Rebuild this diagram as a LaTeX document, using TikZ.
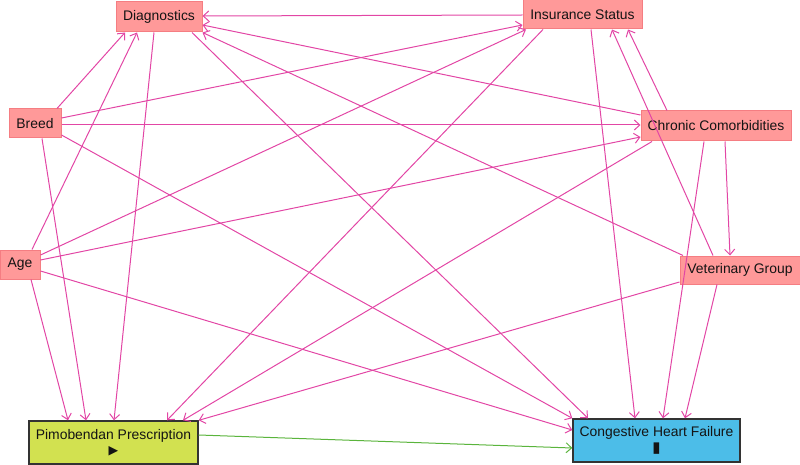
\documentclass[tikz,border=0pt]{standalone}
\usepackage{fontspec}
\setmainfont{Liberation Sans}
\newfontfamily\symfont{DejaVu Sans}
\usetikzlibrary{arrows.meta,calc}
\definecolor{adjfill}{RGB}{255,153,153}
\definecolor{adjdraw}{RGB}{245,125,130}
\definecolor{expfill}{RGB}{210,225,80}
\definecolor{outfill}{RGB}{76,189,232}
\definecolor{biasedge}{RGB}{226,70,165}
\definecolor{causaledge}{RGB}{90,180,60}
\definecolor{txt}{RGB}{20,20,20}
\begin{document}
\begin{tikzpicture}[x=1pt,y=-1pt,
  every node/.style={font=\fontsize{13.9}{17}\selectfont, text=txt, inner sep=0pt, align=center},
  adjbox/.style={draw=adjdraw, fill=adjfill, line width=1pt},
  expbox/.style={draw=black!80, fill=expfill, line width=1.4pt},
  outbox/.style={draw=black!80, fill=outfill, line width=1.4pt},
  bias/.style={draw=biasedge, line width=1pt, -{Straight Barb[length=5.5pt,width=10pt]}},
  causal/.style={draw=causaledge, line width=1pt, -{Straight Barb[length=5.5pt,width=10pt]}}]
\useasboundingbox (0,0) rectangle (800,465);

\node[adjbox, minimum width=86pt, minimum height=30pt] (diag) at (159,17) {Diagnostics};
\node[adjbox, minimum width=119pt, minimum height=29pt] (ins) at (582.5,14.5) {Insurance Status};
\node[adjbox, minimum width=52pt, minimum height=29pt] (breed) at (35,123.5) {Breed};
\node[adjbox, minimum width=150pt, minimum height=30pt] (chron) at (716,126) {Chronic Comorbidities};
\node[adjbox, minimum width=40pt, minimum height=29pt] (age) at (20,264.5) {Age};
\node[adjbox, minimum width=120pt, minimum height=28pt] (vet) at (740,270) {Veterinary Group};
\node[expbox, minimum width=169pt, minimum height=43pt] (pimo) at (113.5,442.5) {Pimobendan Prescription\\[-1.5pt]{\symfont\fontsize{12.5}{12}\selectfont ▶}};
\node[outbox, minimum width=167pt, minimum height=43pt] (chf) at (656.5,440.5) {Congestive Heart Failure\\[-1.5pt]{\symfont\fontsize{15}{12}\selectfont ▮}};

% Breed
\draw[bias] ($(breed.north)+(22,0)$) -- ($(diag.south)+(-34,0)$);
\draw[bias] ($(breed.east)+(0,-5.5)$) -- ($(ins.west)+(0,10.5)$);
\draw[bias] ($(breed.east)+(0,1.5)$) -- ($(chron.west)+(0,-1)$);
\draw[bias] ($(breed.south)+(7,0)$) -- ($(pimo.north)+(-27.5,0)$);
\draw[bias] ($(breed.east)+(0,11.5)$) -- (chf.north west);
% Age
\draw[bias] ($(age.north)+(12,0)$) -- ($(diag.south)+(-22,0)$);
\draw[bias] ($(age.east)+(0,-9.5)$) -- ($(ins.south)+(-56.5,0)$);
\draw[bias] ($(age.east)+(0,-4.5)$) -- ($(chron.west)+(0,11)$);
\draw[bias] ($(age.south)+(11,0)$) -- ($(pimo.north)+(-45.5,0)$);
\draw[bias] ($(age.east)+(0,6.5)$) -- ($(chf.west)+(0,-10.5)$);
% Diagnostics
\draw[bias] ($(diag.south)+(-5,0)$) -- ($(pimo.north)+(0.5,0)$);
\draw[bias] ($(diag.south)+(33,0)$) -- ($(chf.north)+(-68.5,0)$);
% Insurance
\draw[bias] ($(ins.west)+(0,0.5)$) -- ($(diag.east)+(0,-1)$);
\draw[bias] ($(ins.south)+(-39.5,0)$) -- ($(pimo.north)+(53.5,0)$);
\draw[bias] ($(ins.south)+(8.5,0)$) -- ($(chf.north)+(-21.5,0)$);
% Chronic
\draw[bias] ($(chron.west)+(0,-11)$) -- ($(diag.east)+(0,8)$);
\draw[bias] ($(chron.north)+(-49,0)$) -- ($(ins.south)+(45.5,0)$);
\draw[bias] ($(chron.south)+(9,0)$) -- ($(vet.north)+(-10,0)$);
\draw[bias] ($(chron.south)+(-64,0)$) -- ($(pimo.north)+(69.5,0)$);
\draw[bias] ($(chron.south)+(-12,0)$) -- ($(chf.north)+(6.5,0)$);
% Veterinary
\draw[bias] ($(vet.north)+(-57,0)$) -- (diag.south east);
\draw[bias] ($(vet.north)+(-27,0)$) -- ($(ins.south)+(29.5,0)$);
\draw[bias] ($(vet.west)+(0,12)$) -- (pimo.north east);
\draw[bias] ($(vet.south)+(-23,0)$) -- ($(chf.north)+(28.5,0)$);
% causal
\draw[causal] ($(pimo.east)+(0,-7.5)$) -- ($(chf.west)+(0,7.5)$);
\end{tikzpicture}
\end{document}
